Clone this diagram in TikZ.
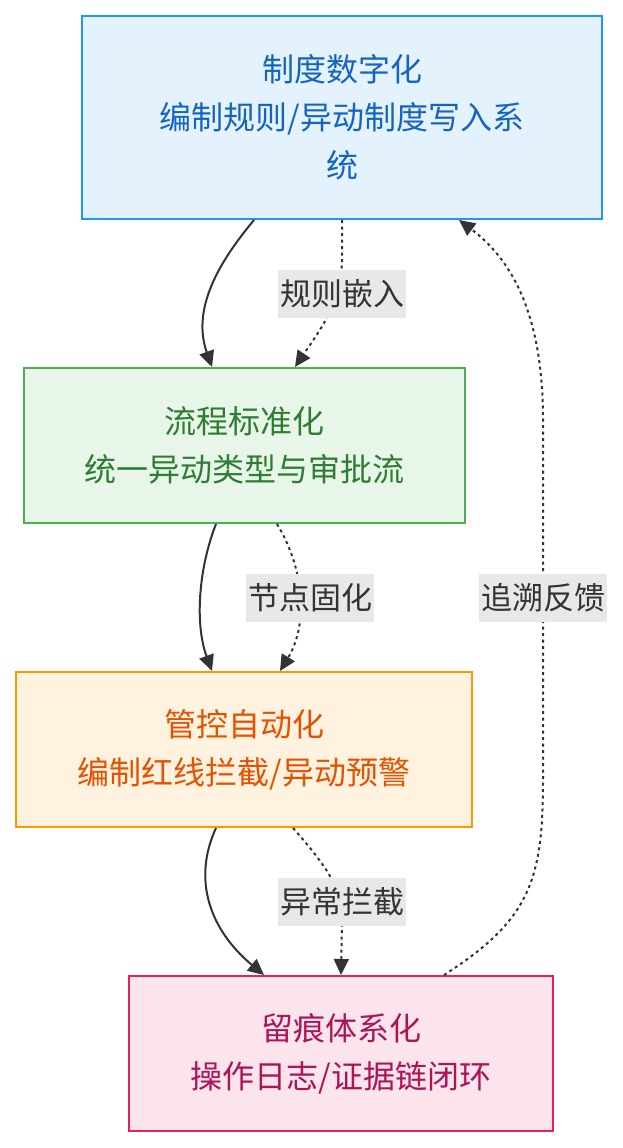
\documentclass[tikz,border=0pt]{standalone}
\usepackage{fontspec}
\newfontfamily\cjk{Noto Sans CJK SC}
\usetikzlibrary{arrows.meta}
\definecolor{aFill}{HTML}{E3F2FD}\definecolor{aLine}{HTML}{2196F3}\definecolor{aText}{HTML}{1565C0}
\definecolor{bFill}{HTML}{E8F5E9}\definecolor{bLine}{HTML}{4CAF50}\definecolor{bText}{HTML}{2E7D32}
\definecolor{cFill}{HTML}{FFF3E0}\definecolor{cLine}{HTML}{FF9800}\definecolor{cText}{HTML}{E65100}
\definecolor{dFill}{HTML}{FCE4EC}\definecolor{dLine}{HTML}{E91E63}\definecolor{dText}{HTML}{AD1457}
\definecolor{lblFill}{HTML}{E8E8E8}\definecolor{ink}{HTML}{333333}
\tikzset{
  stage/.style={draw, line width=2pt, rectangle, align=center, inner sep=0pt,
    font=\cjk\fontsize{32}{48}\selectfont},
  lbl/.style={fill=lblFill, text=ink, inner sep=2pt, minimum height=48pt, minimum width=128pt,
    font=\cjk\fontsize{31}{36}\selectfont},
  flow/.style={draw=ink, line width=2pt, -{Triangle[length=16pt,width=15pt]}},
  flowdot/.style={flow, dash pattern=on 3pt off 3.5pt}
}
\begin{document}
\begin{tikzpicture}[x=1pt,y=-1pt]
\useasboundingbox (0,0) rectangle (622,1148);
\node[stage, fill=aFill, draw=aLine, text=aText, minimum width=520pt, minimum height=203pt] (A) at (342,117.5) {制度数字化\\编制规则/异动制度写入系\\统};
\node[stage, fill=bFill, draw=bLine, text=bText, minimum width=441pt, minimum height=155pt] (B) at (244.5,445.5) {流程标准化\\统一异动类型与审批流};
\node[stage, fill=cFill, draw=cLine, text=cText, minimum width=456pt, minimum height=155pt] (C) at (244,749.5) {管控自动化\\编制红线拦截/异动预警};
\node[stage, fill=dFill, draw=dLine, text=dText, minimum width=424pt, minimum height=155pt] (D) at (341,1053.5) {留痕体系化\\操作日志/证据链闭环};

% A -> B
\draw[flow] ([xshift=173pt]A.south west) .. controls (225,255) and (190,305) .. ([xshift=189pt]B.north west);
\draw[flowdot] ([xshift=261pt]A.south west) -- (342,262) .. controls (340,305) and (320,330) .. ([xshift=272pt]B.north west);
% B -> C
\draw[flow] ([xshift=193pt]B.south west) .. controls (198,570) and (195,625) .. ([xshift=197pt]C.north west);
\draw[flowdot] ([xshift=254pt]B.south west) .. controls (305,570) and (308,625) .. ([xshift=265pt]C.north west);
% C -> D
\draw[flow] ([xshift=201pt]C.south west) .. controls (192,880) and (210,930) .. ([xshift=136pt]D.north west);
\draw[flowdot] ([xshift=278pt]C.south west) .. controls (330,870) and (342,890) .. (342,920) -- ([xshift=213pt]D.north west);
% D -> A
\draw[flowdot] ([xshift=316pt]D.north west) .. controls (530,920) and (543,880) .. (543,780) -- (543,420) .. controls (543,320) and (515,262) .. ([xshift=378pt]A.south west);

\node[lbl] (L1) at (342,294) {规则嵌入};
\node[lbl] (L2) at (310,598) {节点固化};
\node[lbl] (L3) at (342,902) {异常拦截};
\node[lbl] (L4) at (543,598) {追溯反馈};
\end{tikzpicture}
\end{document}
